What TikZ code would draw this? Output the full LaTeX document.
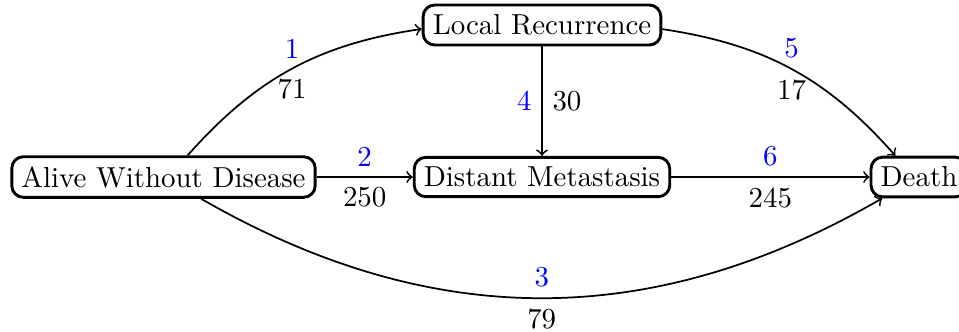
\documentclass[tikz,border=0pt]{standalone}
\usetikzlibrary{arrows}
\begin{document}
\begin{tikzpicture}[x=0.346pt,y=-0.346pt,
  state/.style={draw,line width=1pt,rounded corners,fill=white},
  conn/.style={->,semithick},
  num/.style={text=blue}]
\useasboundingbox (0,0) rectangle (959,331);
\node[state] (alive) at (163.5,177) {Alive Without Disease};
\node[state] (local) at (542,25) {Local Recurrence};
\node[state] (dist) at (542,177) {Distant Metastasis};
\node[state] (death) at (919,177) {Death};
\path[conn] (alive) edge[bend left=20] node[num,above]{1} node[below]{71} (local);
\path[conn] (alive) edge node[num,above]{2} node[below]{250} (dist);
\path[conn] (alive) edge[bend right=30] node[num,above]{3} node[below]{79} (death);
\path[conn] (local) edge node[num,left]{4} node[right]{30} (dist);
\path[conn] (local) edge[bend left=20] node[num,above]{5} node[below]{17} (death);
\path[conn] (dist) edge node[num,above]{6} node[below]{245} (death);
\end{tikzpicture}
\end{document}
